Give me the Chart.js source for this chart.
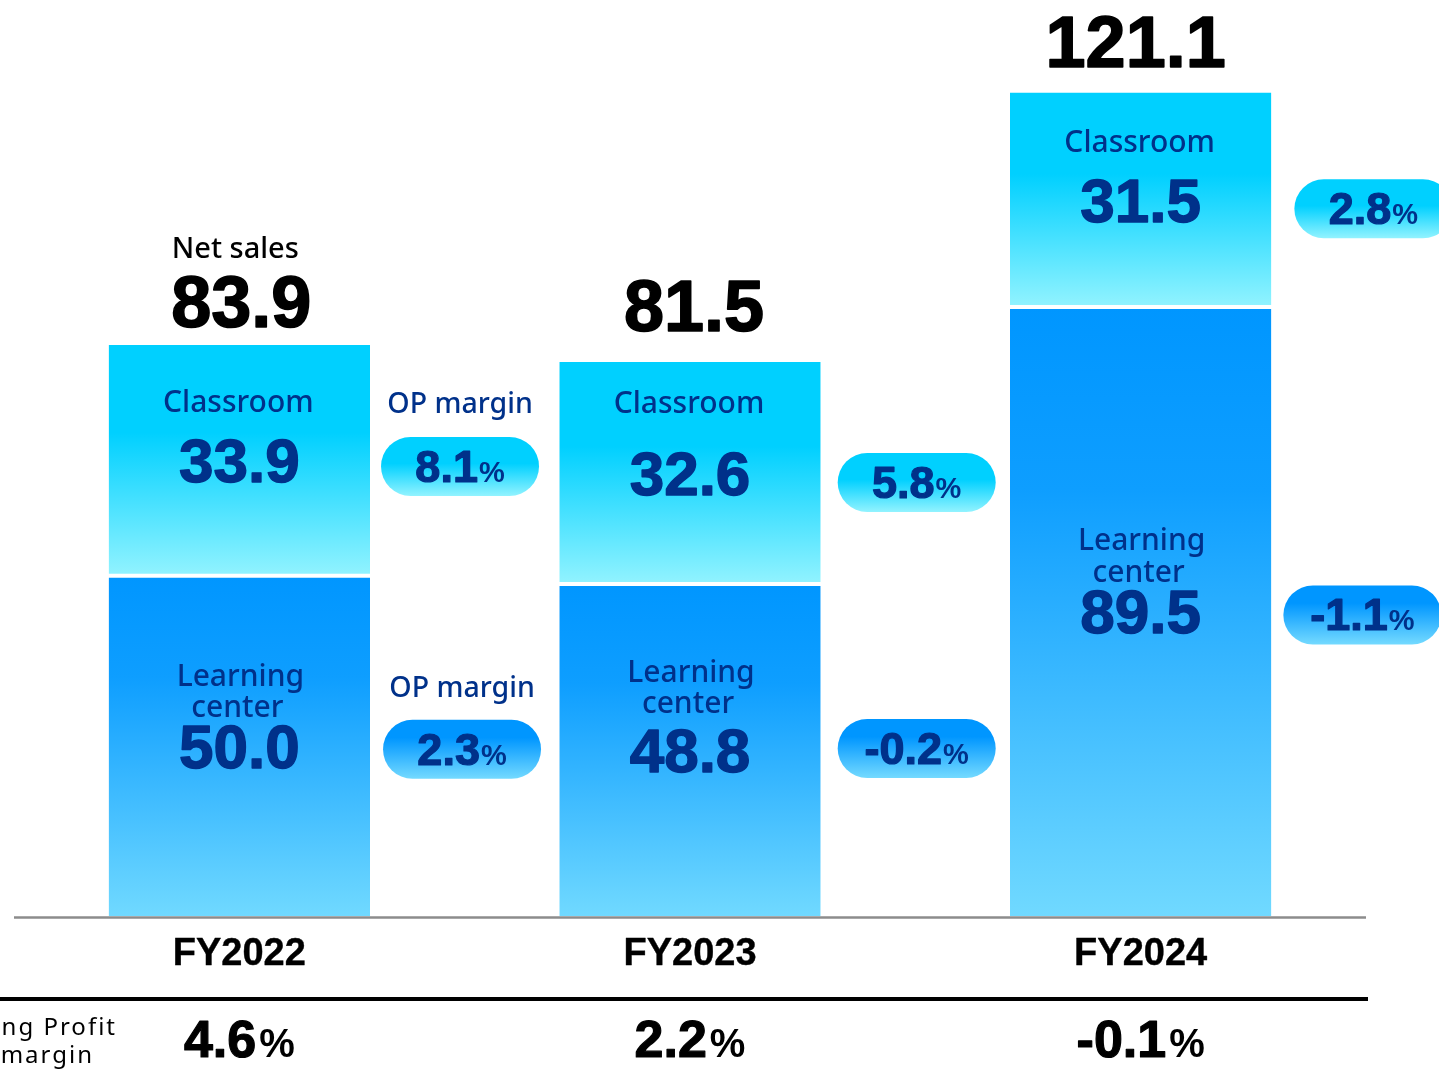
<!DOCTYPE html>
<html>
<head>
<meta charset="utf-8">
<script src="https://cdn.jsdelivr.net/npm/chart.js@4.4.0/dist/chart.umd.min.js"></script>
<style>
html,body{margin:0;padding:0;background:#fff;}
#wrap{width:1439px;height:1071px;position:relative;}
</style>
</head>
<body>
<div id="wrap"><canvas id="c"></canvas></div>
<script>
// ---- data ----
const categories = ['FY2022', 'FY2023', 'FY2024'];
const learningCenter = [50.0, 48.8, 89.5];
const classroom = [33.9, 32.6, 31.5];
const netSales = [83.9, 81.5, 121.1];
const classroomOpMargin = [8.1, 5.8, 2.8];
const learningOpMargin = [2.3, -0.2, -1.1];
const totalOpMargin = [4.6, 2.2, -0.1];

// ---- layout tweaks (pixels) ----
const NAVY = '#00318A';
const totalGap = [18, 31, 26];
const totalDx = [2, 4, -5];
const clsLabelGap = [70, 82, 70];
const lcLabelGap = [[82, 51], [90, 59], [83, 51]];
const clsPill = [{dx: 11, dy: 6}, {dx: 17, dy: 9.5}, {dx: 23, dy: 9}];
const lcPill = [{dx: 13, dy: 3.5}, {dx: 17, dy: -1.5}, {dx: 12, dy: 3.5}];
const PILL_W = 158, PILL_H = 59;

const NUM_FONT = '"Liberation Sans", Arial, sans-serif';
const TXT_FONT = '"Noto Sans", sans-serif';

function segGrad(ctx, yTop, yBot, stops) {
  const g = ctx.createLinearGradient(0, yTop, 0, yBot);
  stops.forEach(s => g.addColorStop(s[0], s[1]));
  return g;
}
const CLS_STOPS = [[0, '#00D0FF'], [0.38, '#00D0FF'], [1, '#92F3FF']];
const LC_STOPS = [[0, '#0096FF'], [0.3, '#0E9EFF'], [1, '#70D9FF']];

function bgFor(kind) {
  return function (context) {
    const chart = context.chart;
    const y = chart.scales && chart.scales.y;
    if (!chart.chartArea || !y || context.dataIndex === undefined) return kind === 'cls' ? '#00D0FF' : '#0096FF';
    const i = context.dataIndex;
    let lo, hi;
    if (kind === 'lc') { lo = 0; hi = learningCenter[i]; }
    else { lo = learningCenter[i]; hi = learningCenter[i] + classroom[i]; }
    return segGrad(chart.ctx, y.getPixelForValue(hi), y.getPixelForValue(lo), kind === 'cls' ? CLS_STOPS : LC_STOPS);
  };
}

function heavyText(ctx, txt, x, y, color, sw) {
  ctx.fillStyle = color;
  ctx.strokeStyle = color;
  ctx.lineWidth = sw;
  ctx.lineJoin = 'round';
  ctx.fillText(txt, x, y);
  if (sw > 0) ctx.strokeText(txt, x, y);
}

function drawPctText(ctx, cx, baseline, value, bigSize, smallSize, color, gap, sw) {
  const num = value.toFixed(1);
  ctx.font = 'bold ' + bigSize + 'px ' + NUM_FONT;
  const w1 = ctx.measureText(num).width;
  ctx.font = 'bold ' + smallSize + 'px ' + NUM_FONT;
  const w2 = ctx.measureText('%').width;
  const x0 = cx - (w1 + gap + w2) / 2;
  ctx.textAlign = 'left';
  ctx.textBaseline = 'alphabetic';
  ctx.font = 'bold ' + bigSize + 'px ' + NUM_FONT;
  heavyText(ctx, num, x0, baseline, color, sw);
  ctx.font = 'bold ' + smallSize + 'px ' + NUM_FONT;
  heavyText(ctx, '%', x0 + w1 + gap, baseline, color, 0);
}

function drawPill(ctx, x, cy, value, stops) {
  const top = cy - PILL_H / 2;
  const g = ctx.createLinearGradient(0, top, 0, top + PILL_H);
  stops.forEach(s => g.addColorStop(s[0], s[1]));
  ctx.save();
  ctx.beginPath();
  ctx.roundRect(x, top, PILL_W, PILL_H, PILL_H / 2);
  ctx.fillStyle = g;
  ctx.fill();
  ctx.restore();
  drawPctText(ctx, x + PILL_W / 2, cy + 15.5, value, 45, 29, NAVY, 1, 1.2);
}

const labelsPlugin = {
  id: 'labels',
  afterDraw(chart) {
    const ctx = chart.ctx;
    const x = chart.scales.x, y = chart.scales.y;
    const meta0 = chart.getDatasetMeta(0);
    const area = chart.chartArea;
    ctx.save();
    // axis line
    ctx.strokeStyle = '#8C8C8C';
    ctx.lineWidth = 2.5;
    ctx.beginPath();
    ctx.moveTo(area.left, area.bottom + 1.5);
    ctx.lineTo(area.right, area.bottom + 1.5);
    ctx.stroke();
    // black separator line
    ctx.strokeStyle = '#000';
    ctx.lineWidth = 4;
    ctx.beginPath();
    ctx.moveTo(0, 999);
    ctx.lineTo(area.right + 2, 999);
    ctx.stroke();

    categories.forEach((cat, i) => {
      const cx = x.getPixelForValue(i);
      const bar = meta0.data[i];
      const right = bar.x + bar.width / 2;
      const yBase = y.getPixelForValue(0);
      const yLc = y.getPixelForValue(learningCenter[i]);
      const yTot = y.getPixelForValue(learningCenter[i] + classroom[i]);
      const midLc = (yBase + yLc) / 2;
      const midCls = (yLc + yTot) / 2;

      ctx.textAlign = 'center';
      ctx.textBaseline = 'alphabetic';
      // total
      ctx.font = 'bold 72px ' + NUM_FONT;
      heavyText(ctx, netSales[i].toFixed(1), cx + totalDx[i], yTot - totalGap[i], '#000', 1.6);
      if (i === 0) {
        ctx.fillStyle = '#000';
        ctx.font = '500 29px ' + TXT_FONT;
        ctx.fillText('Net sales', cx - 4, yTot - 87);
      }
      // classroom labels
      const vCls = midCls + 22;
      ctx.fillStyle = NAVY;
      ctx.font = '500 30px ' + TXT_FONT;
      ctx.fillText('Classroom', cx - 1, vCls - clsLabelGap[i]);
      ctx.font = 'bold 62px ' + NUM_FONT;
      heavyText(ctx, classroom[i].toFixed(1), cx, vCls, NAVY, 1.4);
      // learning center labels
      const vLc = midLc + 22;
      ctx.fillStyle = NAVY;
      ctx.font = '500 30px ' + TXT_FONT;
      ctx.fillText('Learning', cx + 1, vLc - lcLabelGap[i][0]);
      ctx.fillText('center', cx - 2, vLc - lcLabelGap[i][1]);
      ctx.font = 'bold 62px ' + NUM_FONT;
      heavyText(ctx, learningCenter[i].toFixed(1), cx, vLc, NAVY, 1.4);

      // pills
      const pcy1 = midCls + clsPill[i].dy;
      const px1 = right + clsPill[i].dx;
      drawPill(ctx, px1, pcy1, classroomOpMargin[i], [[0, '#00D0FF'], [0.45, '#00D0FF'], [1, '#92F3FF']]);
      const pcy2 = midLc + lcPill[i].dy;
      const px2 = right + lcPill[i].dx;
      drawPill(ctx, px2, pcy2, learningOpMargin[i], [[0, '#0096FF'], [0.3, '#0096FF'], [1, '#74DAFF']]);
      if (i === 0) {
        ctx.fillStyle = NAVY;
        ctx.textAlign = 'center';
        ctx.font = '500 28.5px ' + TXT_FONT;
        ctx.fillText('OP margin', px1 + PILL_W / 2, pcy1 - PILL_H / 2 - 24);
        ctx.fillText('OP margin', px2 + PILL_W / 2, pcy2 - PILL_H / 2 - 23);
      }

      // category label
      ctx.textAlign = 'center';
      ctx.font = 'bold 38px ' + NUM_FONT;
      heavyText(ctx, cat, cx, 965, '#000', 0.4);

      // total OP margin row
      drawPctText(ctx, cx, 1057, totalOpMargin[i], 52, 40, '#000', 3, 1.2);
    });

    // row label
    ctx.fillStyle = '#000';
    ctx.textAlign = 'right';
    ctx.font = '24px ' + TXT_FONT;
    try { ctx.letterSpacing = '2px'; } catch (e) {}
    ctx.fillText('Operating Profit', 117, 1035);
    ctx.fillText('margin', 94, 1063);
    try { ctx.letterSpacing = '0px'; } catch (e) {}
    ctx.restore();
  }
};

new Chart(document.getElementById('c'), {
  type: 'bar',
  data: {
    labels: categories,
    datasets: [
      {
        label: 'Learning center',
        data: learningCenter,
        backgroundColor: bgFor('lc'),
        borderColor: '#FFFFFF',
        borderWidth: {top: 2, left: 0, right: 0, bottom: 0},
        borderSkipped: false,
        barPercentage: 0.58,
        categoryPercentage: 1.0
      },
      {
        label: 'Classroom',
        data: classroom,
        backgroundColor: bgFor('cls'),
        borderColor: '#FFFFFF',
        borderWidth: {top: 0, left: 0, right: 0, bottom: 2},
        borderSkipped: false,
        barPercentage: 0.58,
        categoryPercentage: 1.0
      }
    ]
  },
  options: {
    responsive: true,
    maintainAspectRatio: false,
    animation: false,
    layout: {padding: {left: 14, right: 73, top: 0, bottom: 155}},
    plugins: {legend: {display: false}, tooltip: {enabled: false}},
    scales: {
      x: {stacked: true, display: false},
      y: {stacked: true, display: false, min: 0, max: 134.6}
    }
  },
  plugins: [labelsPlugin]
});
</script>
</body>
</html>
